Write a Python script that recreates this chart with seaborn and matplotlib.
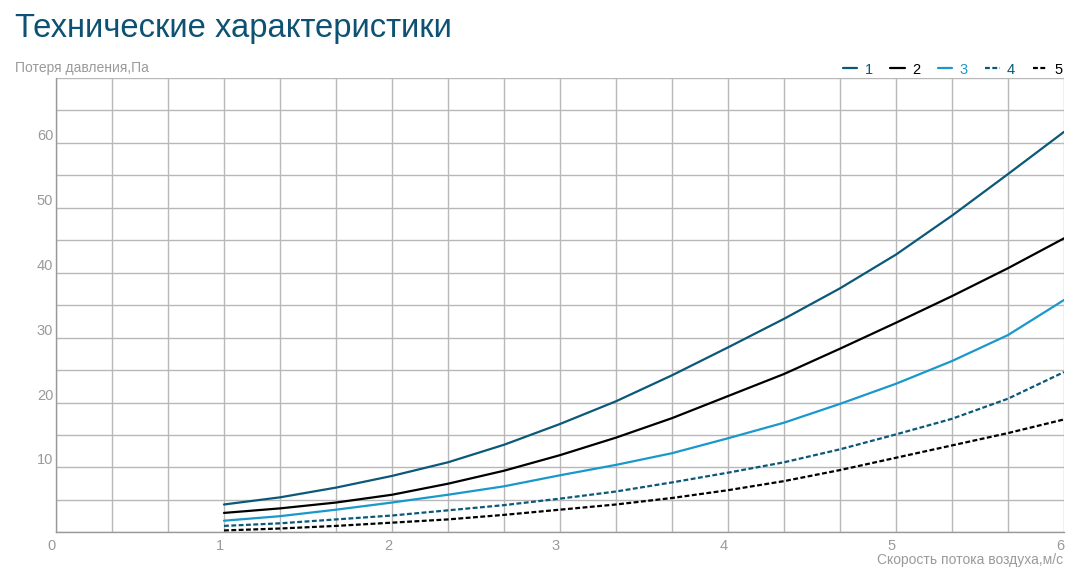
import numpy as np
import pandas as pd
import matplotlib
matplotlib.use('Agg')
import matplotlib.pyplot as plt
import seaborn as sns

# =============================================================================
# Data
# =============================================================================
speed = [1, 4/3, 5/3, 2, 7/3, 8/3, 3, 10/3, 11/3, 4, 13/3, 14/3, 5, 16/3, 17/3, 6]

loss_1 = [4.3, 5.4, 6.9, 8.7, 10.8, 13.5, 16.7, 20.2, 24.2, 28.5, 32.9, 37.6, 42.8, 48.8, 55.2, 61.7]
loss_2 = [3.0, 3.7, 4.6, 5.8, 7.5, 9.5, 11.9, 14.6, 17.6, 21.0, 24.4, 28.3, 32.3, 36.4, 40.7, 45.3]
loss_3 = [1.8, 2.5, 3.5, 4.6, 5.8, 7.1, 8.8, 10.4, 12.2, 14.5, 16.9, 19.8, 22.9, 26.4, 30.4, 35.8]
loss_4 = [1.0, 1.4, 2.0, 2.6, 3.4, 4.2, 5.2, 6.3, 7.7, 9.2, 10.8, 12.8, 15.1, 17.5, 20.6, 24.7]
loss_5 = [0.3, 0.6, 1.0, 1.5, 2.0, 2.7, 3.5, 4.3, 5.3, 6.5, 7.9, 9.6, 11.5, 13.4, 15.3, 17.4]

series_names = ['1', '2', '3', '4', '5']
x_ticks = [0, 1, 2, 3, 4, 5, 6]
y_ticks = [10, 20, 30, 40, 50, 60]

title = 'Технические характеристики'
y_label = 'Потеря давления,Па'
x_label = 'Скорость потока воздуха,м/с'

# =============================================================================
# Styling
# =============================================================================
DARK = '#0b5878'
BLACK = '#000000'
LIGHT = '#1a98cc'
GREY_TXT = '#9a9a9a'
GRID = '#b8b8b8'

colors = [DARK, BLACK, LIGHT, DARK, BLACK]
dashes = [None, None, None, (2.2, 1.1), (2.2, 1.1)]

sns.set_theme(style='white')
plt.rcParams['font.family'] = ['Liberation Sans', 'DejaVu Sans']

fig = plt.figure(figsize=(10.83, 5.83), dpi=100)
ax = fig.add_axes([56/1083, 1 - 532.4/583, (1064 - 56)/1083, (532.4 - 78)/583])

all_loss = [loss_1, loss_2, loss_3, loss_4, loss_5]
handles = []
for name, vals, c, d in zip(series_names, all_loss, colors, dashes):
    df = pd.DataFrame({'speed': speed, 'loss': vals})
    sns.lineplot(data=df, x='speed', y='loss', ax=ax, color=c, linewidth=1.6)
    line = ax.lines[-1]
    line.set_solid_joinstyle('round')
    line.set_dash_joinstyle('round')
    if d is not None:
        line.set_dashes(d)
    handles.append(line)

# axes limits / grid
ax.set_xlim(0, 6)
ax.set_ylim(0, 70)
ax.set_xticks(np.arange(0, 6.01, 1/3), minor=True)
ax.set_yticks(np.arange(0, 70.01, 5), minor=True)
ax.set_xticks(x_ticks)
ax.set_yticks(y_ticks)
ax.grid(True, which='both', color=GRID, linewidth=1.0)
ax.set_axisbelow(True)

for s in ['top', 'right']:
    ax.spines[s].set_visible(False)
for s in ['left', 'bottom']:
    ax.spines[s].set_color('#999999')
    ax.spines[s].set_linewidth(1.0)

ax.tick_params(axis='both', which='major', length=5, width=1, color='#999999',
               labelsize=10.5, labelcolor=GREY_TXT)
ax.tick_params(axis='both', which='minor', length=0)
ax.tick_params(axis='x', which='major', pad=0)
ax.tick_params(axis='y', which='major', pad=-3)
ax.set_xticklabels([str(t) for t in x_ticks], ha='right')
ax.set_yticklabels([str(t) for t in y_ticks], va='bottom')
ax.set_xlabel('')
ax.set_ylabel('')

# texts
fig.text(15/1083, 1 - 28/583, title, fontsize=23.6, color='#0d5273', va='center', ha='left')
fig.text(15/1083, 1 - 68/583, y_label, fontsize=10, color=GREY_TXT, va='center', ha='left')
fig.text(1063/1083, 1 - 560/583, x_label, fontsize=10, color=GREY_TXT, va='center', ha='right')

# legend
leg = ax.legend(handles, series_names, ncol=5, loc='lower right', bbox_to_anchor=(1.0, 1.0),
                frameon=False, fontsize=10.5, handlelength=1.0, handletextpad=0.5,
                columnspacing=1.2, borderaxespad=0.1, borderpad=0.0)
for txt, c in zip(leg.get_texts(), colors):
    txt.set_color(c)

fig.savefig('out.png', dpi=100)
